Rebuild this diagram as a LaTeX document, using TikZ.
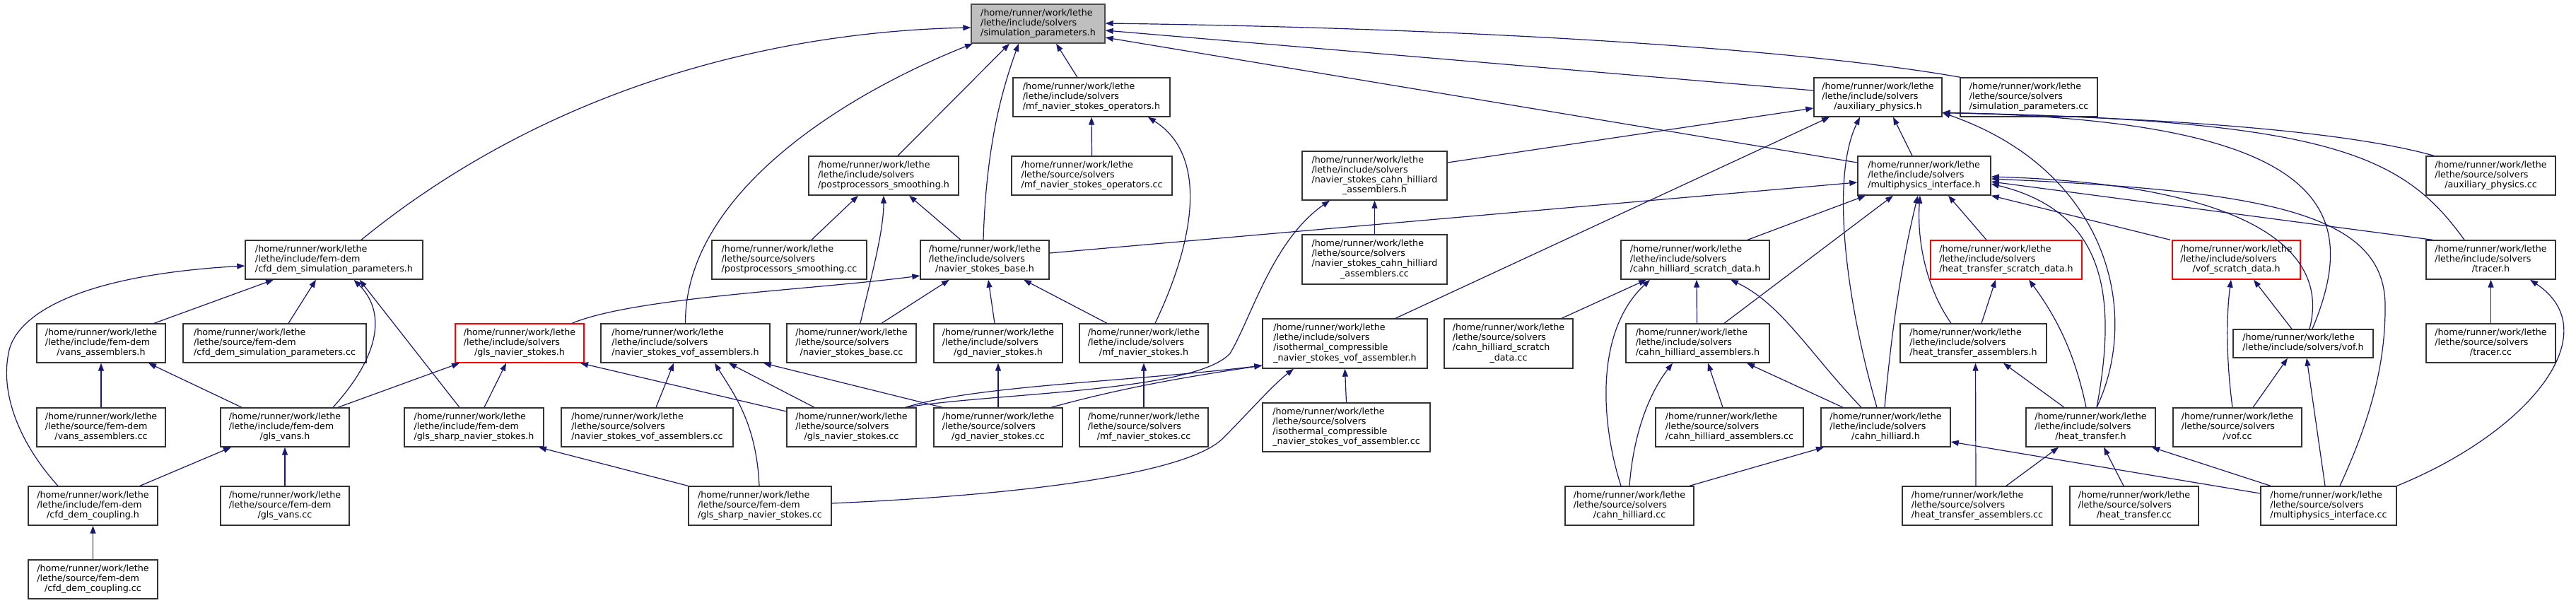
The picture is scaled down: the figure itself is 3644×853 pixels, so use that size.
\documentclass[tikz,border=0pt]{standalone}
\usepackage{fontspec}
\setmainfont{DejaVu Sans}
\usetikzlibrary{arrows.meta,calc}
\definecolor{edgec}{HTML}{191970}
\definecolor{rootfill}{HTML}{BFBFBF}
\newcommand{\lbl}[2]{\begin{tabular}{@{}l@{}}#1\\\multicolumn{1}{@{}c@{}}{#2}\end{tabular}}
\newcommand{\hpath}{/home/runner/work/lethe}
\newcommand{\incs}{/lethe/include/solvers}
\newcommand{\srcs}{/lethe/source/solvers}
\newcommand{\incf}{/lethe/include/fem-dem}
\newcommand{\srcf}{/lethe/source/fem-dem}
\begin{document}
\begin{tikzpicture}[x=1pt,y=-1pt,
  nb/.style={draw=black!80, line width=1.4pt, fill=white, rectangle, inner sep=0pt,
    minimum height=55pt, font=\fontsize{12.7}{14.2}\selectfont},
  nr/.style={nb, draw=red},
  nroot/.style={nb, fill=rootfill, draw=black!70},
  edge/.style={draw=edgec, line width=1.2pt, -{Triangle[length=11pt,width=8pt]}}]
\fill[white] (0,0) rectangle (3644,853);
\useasboundingbox (0,0) rectangle (3644,853);

% Row 0
\node[nroot, minimum width=189pt] (root) at (1468.5,33.5) {\lbl{\hpath\\\incs}{/simulation\_parameters.h}};
% Row 1
\node[nb, minimum width=222pt] (mfopsh) at (1544,137.5) {\lbl{\hpath\\\incs}{/mf\_navier\_stokes\_operators.h}};
\node[nb, minimum width=181pt] (auxh) at (2656.5,137.5) {\lbl{\hpath\\\incs}{/auxiliary\_physics.h}};
\node[nb, minimum width=194pt] (simcc) at (2870,137.5) {\lbl{\hpath\\\srcs}{/simulation\_parameters.cc}};
% Row 2
\node[nb, minimum width=212pt] (ppsh) at (1250,248.5) {\lbl{\hpath\\\incs}{/postprocessors\_smoothing.h}};
\node[nb, minimum width=227pt] (mfopscc) at (1544.5,248.5) {\lbl{\hpath\\\srcs}{/mf\_navier\_stokes\_operators.cc}};
\node[nb, minimum width=205pt, minimum height=69pt] (nschh) at (1944.5,248.5) {\lbl{\hpath\\\incs\\/navier\_stokes\_cahn\_hilliard}{\_assemblers.h}};
\node[nb, minimum width=188pt] (mph) at (2722,248.5) {\lbl{\hpath\\\incs}{/multiphysics\_interface.h}};
\node[nb, minimum width=183pt] (auxcc) at (3523.5,248.5) {\lbl{\hpath\\\srcs}{/auxiliary\_physics.cc}};
% Row 3
\node[nb, minimum width=251pt] (cfdsimh) at (472.5,367.5) {\lbl{\hpath\\\incf}{/cfd\_dem\_simulation\_parameters.h}};
\node[nb, minimum width=219pt] (ppscc) at (1116.5,367.5) {\lbl{\hpath\\\srcs}{/postprocessors\_smoothing.cc}};
\node[nb, minimum width=182pt] (nsbaseh) at (1393,367.5) {\lbl{\hpath\\\incs}{/navier\_stokes\_base.h}};
\node[nb, minimum width=205pt, minimum height=70pt] (nschcc) at (1944.5,367) {\lbl{\hpath\\\srcs\\/navier\_stokes\_cahn\_hilliard}{\_assemblers.cc}};
\node[nb, minimum width=210pt] (chsdh) at (2398,367.5) {\lbl{\hpath\\\incs}{/cahn\_hilliard\_scratch\_data.h}};
\node[nr, minimum width=214pt] (htsdh) at (2838,367.5) {\lbl{\hpath\\\incs}{/heat\_transfer\_scratch\_data.h}};
\node[nr, minimum width=181pt] (vofsdh) at (3163.5,367.5) {\lbl{\hpath\\\incs}{/vof\_scratch\_data.h}};
\node[nb, minimum width=183pt] (tracerh) at (3523.5,367.5) {\lbl{\hpath\\\incs}{/tracer.h}};
% Row 4
\node[nb, minimum width=182pt] (vansh) at (143,485.5) {\lbl{\hpath\\\incf}{/vans\_assemblers.h}};
\node[nb, minimum width=259pt] (cfdsimcc) at (388.5,485.5) {\lbl{\hpath\\\srcf}{/cfd\_dem\_simulation\_parameters.cc}};
\node[nr, minimum width=182pt] (glsnsh) at (735,485.5) {\lbl{\hpath\\\incs}{/gls\_navier\_stokes.h}};
\node[nb, minimum width=239pt] (nsvofh) at (969.5,485.5) {\lbl{\hpath\\\incs}{/navier\_stokes\_vof\_assemblers.h}};
\node[nb, minimum width=183pt] (nsbasecc) at (1204.5,485.5) {\lbl{\hpath\\\srcs}{/navier\_stokes\_base.cc}};
\node[nb, minimum width=182pt] (gdnsh) at (1412,485.5) {\lbl{\hpath\\\incs}{/gd\_navier\_stokes.h}};
\node[nb, minimum width=182pt] (mfnsh) at (1618,485.5) {\lbl{\hpath\\\incs}{/mf\_navier\_stokes.h}};
\node[nb, minimum width=233pt, minimum height=70pt] (isoh) at (1902.5,486) {\lbl{\hpath\\\incs\\/isothermal\_compressible}{\_navier\_stokes\_vof\_assembler.h}};
\node[nb, minimum width=182pt, minimum height=70pt] (chsdcc) at (2134,486) {\lbl{\hpath\\\srcs\\/cahn\_hilliard\_scratch}{\_data.cc}};
\node[nb, minimum width=203pt] (chah) at (2401.5,485.5) {\lbl{\hpath\\\incs}{/cahn\_hilliard\_assemblers.h}};
\node[nb, minimum width=207pt] (htah) at (2791.5,485.5) {\lbl{\hpath\\\incs}{/heat\_transfer\_assemblers.h}};
\node[nb, minimum width=198pt, minimum height=40pt] (vofh) at (3258,486) {\lbl{\hpath}{/lethe/include/solvers/vof.h}};
\node[nb, minimum width=183pt] (tracercc) at (3523.5,485.5) {\lbl{\hpath\\\srcs}{/tracer.cc}};
% Row 5
\node[nb, minimum width=182pt] (vanscc) at (143,604.5) {\lbl{\hpath\\\srcf}{/vans\_assemblers.cc}};
\node[nb, minimum width=182pt] (glsvansh) at (403,604.5) {\lbl{\hpath\\\incf}{/gls\_vans.h}};
\node[nb, minimum width=197pt] (glssharph) at (670.5,604.5) {\lbl{\hpath\\\incf}{/gls\_sharp\_navier\_stokes.h}};
\node[nb, minimum width=243pt] (nsvofcc) at (915.5,604.5) {\lbl{\hpath\\\srcs}{/navier\_stokes\_vof\_assemblers.cc}};
\node[nb, minimum width=183pt] (glsnscc) at (1204.5,604.5) {\lbl{\hpath\\\srcs}{/gls\_navier\_stokes.cc}};
\node[nb, minimum width=182pt] (gdnscc) at (1412,604.5) {\lbl{\hpath\\\srcs}{/gd\_navier\_stokes.cc}};
\node[nb, minimum width=182pt] (mfnscc) at (1618,604.5) {\lbl{\hpath\\\srcs}{/mf\_navier\_stokes.cc}};
\node[nb, minimum width=237pt, minimum height=69pt] (isocc) at (1904.5,604.5) {\lbl{\hpath\\\srcs\\/isothermal\_compressible}{\_navier\_stokes\_vof\_assembler.cc}};
\node[nb, minimum width=209pt] (chacc) at (2446.5,604.5) {\lbl{\hpath\\\srcs}{/cahn\_hilliard\_assemblers.cc}};
\node[nb, minimum width=183pt] (chh) at (2667.5,604.5) {\lbl{\hpath\\\incs}{/cahn\_hilliard.h}};
\node[nb, minimum width=183pt] (hth) at (2957.5,604.5) {\lbl{\hpath\\\incs}{/heat\_transfer.h}};
\node[nb, minimum width=182pt] (vofcc) at (3165,604.5) {\lbl{\hpath\\\srcs}{/vof.cc}};
% Row 6
\node[nb, minimum width=183pt] (cfdcouph) at (131.5,715.5) {\lbl{\hpath\\\incf}{/cfd\_dem\_coupling.h}};
\node[nb, minimum width=182pt] (glsvanscc) at (403,715.5) {\lbl{\hpath\\\srcf}{/gls\_vans.cc}};
\node[nb, minimum width=202pt] (glssharpcc) at (1075,715.5) {\lbl{\hpath\\\srcf}{/gls\_sharp\_navier\_stokes.cc}};
\node[nb, minimum width=182pt] (chcc) at (2305,715.5) {\lbl{\hpath\\\srcs}{/cahn\_hilliard.cc}};
\node[nb, minimum width=212pt] (htacc) at (2797,715.5) {\lbl{\hpath\\\srcs}{/heat\_transfer\_assemblers.cc}};
\node[nb, minimum width=182pt] (htcc) at (3019,715.5) {\lbl{\hpath\\\srcs}{/heat\_transfer.cc}};
\node[nb, minimum width=192pt] (mpcc) at (3294,715.5) {\lbl{\hpath\\\srcs}{/multiphysics\_interface.cc}};
% Row 7
\node[nb, minimum width=183pt] (cfdcoupcc) at (131.5,819.5) {\lbl{\hpath\\\srcf}{/cfd\_dem\_coupling.cc}};

% ---- edges into root
\draw[edge] ($(cfdsimh.north)+(38.5,0)$) .. controls (780,120) and (1100,45) .. ($(root.west)+(0,5.5)$);
\draw[edge] (nsvofh.north) .. controls (969,280) and (1180,140) .. ($(root.south)+(-92.5,0)$);
\draw[edge] ($(ppsh.north)+(20,0)$) -- ($(root.south)+(-40.5,0)$);
\draw[edge] ($(nsbaseh.north)+(-2,0)$) .. controls (1395,200) and (1420,120) .. ($(root.south)+(-27.5,0)$);
\draw[edge] ($(mfopsh.north)+(-20,0)$) -- ($(root.south)+(25.5,0)$);
\draw[edge] ($(simcc.north)+(-97,0)$) .. controls (2550,70) and (2100,40) .. ($(root.east)+(0,-0.5)$);
\draw[edge] ($(auxh.west)+(0,-9.5)$) -- ($(root.east)+(0,9.5)$);
\draw[edge] ($(mph.west)+(0,-18.5)$) -- ($(root.east)+(0,19.5)$);
% mf operators
\draw[edge] (mfopscc.north) -- (mfopsh.south);
\draw[edge] ($(mfnsh.north)+(16,0)$) .. controls (1690,340) and (1710,220) .. ($(mfopsh.south)+(80,0)$);
% postprocessors smoothing
\draw[edge] ($(ppscc.north)+(31.5,0)$) -- ($(ppsh.south)+(-36,0)$);
\draw[edge] ($(nsbaseh.north)+(-34,0)$) -- ($(ppsh.south)+(36,0)$);
\draw[edge] ($(nsbasecc.north)+(12.5,0)$) .. controls (1230,400) and (1250,330) .. (ppsh.south);
% navier stokes base
\draw[edge] ($(glsnsh.north)+(74,0)$) .. controls (900,420) and (1150,410) .. ($(nsbaseh.west)+(0,22.5)$);
\draw[edge] ($(nsbasecc.north)+(42.5,0)$) -- ($(nsbaseh.south)+(-50,0)$);
\draw[edge] ($(gdnsh.north)+(-5,0)$) -- ($(nsbaseh.south)+(5,0)$);
\draw[edge] ($(mfnsh.north)+(-52,0)$) -- ($(nsbaseh.south)+(55,0)$);
\draw[edge] ($(nsbaseh.east)+(0,-9.5)$) -- ($(mph.west)+(0,9.5)$);
% ns cahn hilliard assemblers
\draw[edge] (nschcc.north) -- (nschh.south);
\draw[edge] ($(glsnscc.north)+(76.5,0)$) .. controls (1400,556) and (1690,555) .. (1740,500) .. controls (1770,450) and (1800,340) .. ($(nschh.south)+(-63.5,0)$);
% auxiliary physics
\draw[edge] ($(nschh.east)+(0,-18.5)$) -- ($(auxh.west)+(0,15.5)$);
\draw[edge] ($(mph.north)+(-17,0)$) -- ($(auxh.south)+(21.5,0)$);
\draw[edge] ($(isoh.north)+(71.5,0)$) -- ($(auxh.south)+(-68.5,0)$);
\draw[edge] ($(chh.north)+(-12.5,0)$) .. controls (2610,420) and (2590,250) .. ($(auxh.south)+(-25.5,0)$);
\draw[edge] ($(hth.north)+(8.5,0)$) .. controls (3030,440) and (2980,240) .. ($(auxh.east)+(0,22)$);
\draw[edge] ($(vofh.north)+(13,0)$) .. controls (3340,300) and (3300,170) .. ($(auxh.east)+(0,22)$);
\draw[edge] ($(tracerh.north)+(-37.5,0)$) .. controls (3400,220) and (3300,170) .. ($(auxh.east)+(0,22)$);
\draw[edge] ($(auxcc.north)+(-80.5,0)$) .. controls (3300,180) and (3000,165) .. ($(auxh.east)+(0,22)$);
% multiphysics interface
\draw[edge] ($(chsdh.north)+(74,0)$) -- ($(mph.south)+(-83,0)$);
\draw[edge] ($(chah.north)+(37.5,0)$) -- ($(mph.south)+(-44,0)$);
\draw[edge] ($(chh.north)+(-1.5,0)$) .. controls (2680,420) and (2700,330) .. ($(mph.south)+(-9,0)$);
\draw[edge] ($(htsdh.north)+(-28,0)$) -- ($(mph.south)+(34,0)$);
\draw[edge] ($(htah.north)+(-31.5,0)$) .. controls (2720,400) and (2712,330) .. ($(mph.south)+(-6,0)$);
\draw[edge] ($(hth.north)+(8.5,0)$) .. controls (2995,420) and (2980,300) .. ($(mph.east)+(0,11.5)$);
\draw[edge] ($(vofsdh.north)+(-93.5,0)$) -- (mph.south east);
\draw[edge] ($(vofh.north)+(9,0)$) .. controls (3300,340) and (3150,260) .. ($(mph.east)+(0,1.5)$);
\draw[edge] ($(tracerh.north)+(-82.5,0)$) -- ($(mph.east)+(0,8.5)$);
\draw[edge] ($(mpcc.north)+(16,0)$) .. controls (3350,600) and (3375,520) .. (3374,430) .. controls (3372,300) and (3200,270) .. ($(mph.east)+(0,4.5)$);
% cahn hilliard scratch data
\draw[edge] ($(chsdcc.north)+(75,0)$) -- ($(chsdh.south)+(-69,0)$);
\draw[edge] ($(chah.north)+(-1,0)$) -- ($(chsdh.south)+(2,0)$);
\draw[edge] ($(chcc.north)+(-12,0)$) .. controls (2265,600) and (2255,470) .. ($(chsdh.south)+(-64,0)$);
\draw[edge] ($(chh.north)+(-34.5,0)$) .. controls (2560,500) and (2520,430) .. ($(chsdh.south)+(50,0)$);
% heat transfer scratch data / assemblers / heat transfer
\draw[edge] ($(htah.north)+(11.5,0)$) -- ($(htsdh.south)+(-15,0)$);
\draw[edge] ($(hth.north)+(-6.5,0)$) .. controls (2935,500) and (2910,450) .. ($(htsdh.south)+(32,0)$);
\draw[edge] ($(htacc.north)+(-2,0)$) -- ($(htah.south)+(3,0)$);
\draw[edge] ($(hth.north)+(-37.5,0)$) -- ($(htah.south)+(42.5,0)$);
\draw[edge] ($(htacc.north)+(41,0)$) -- ($(hth.south)+(-45.5,0)$);
\draw[edge] ($(htcc.north)+(-15,0)$) -- ($(hth.south)+(18.5,0)$);
\draw[edge] ($(mpcc.north)+(-82,0)$) -- ($(hth.south)+(86.5,0)$);
% cahn hilliard
\draw[edge] ($(chcc.north)+(85,0)$) -- ($(chh.south)+(-87.5,0)$);
\draw[edge] ($(mpcc.west)+(0,-17.5)$) -- ($(chh.east)+(0,20.5)$);
\draw[edge] ($(chacc.north)+(-9.5,0)$) -- ($(chah.south)+(14.5,0)$);
\draw[edge] ($(chh.north)+(-60.5,0)$) -- ($(chah.south)+(69.5,0)$);
\draw[edge] (chcc.north) .. controls (2310,620) and (2330,560) .. ($(chah.south)+(-35.5,0)$);
% vof
\draw[edge] ($(vofh.north)+(-16,0)$) -- ($(vofsdh.south)+(24.5,0)$);
\draw[edge] ($(vofcc.north)+(-7,0)$) .. controls (3148,500) and (3150,440) .. ($(vofsdh.south)+(-7.5,0)$);
\draw[edge] ($(vofcc.north)+(22,0)$) -- ($(vofh.south)+(-22,0)$);
\draw[edge] ($(mpcc.north)+(-5,0)$) -- ($(vofh.south)+(5,0)$);
% tracer
\draw[edge] (tracercc.north) -- (tracerh.south);
\draw[edge] (mpcc.north east) .. controls (3580,610) and (3690,470) .. ($(tracerh.south)+(55.5,0)$);
% cfd dem simulation parameters
\draw[edge] ($(vansh.north)+(75,0)$) -- ($(cfdsimh.south)+(-85.5,0)$);
\draw[edge] ($(cfdsimcc.north)+(19.5,0)$) -- ($(cfdsimh.south)+(-25.5,0)$);
\draw[edge] ($(glsvansh.north)+(68,0)$) .. controls (540,500) and (545,440) .. ($(cfdsimh.south)+(28,0)$);
\draw[edge] ($(glssharph.north)+(-20.5,0)$) -- ($(cfdsimh.south)+(36,0)$);
\draw[edge] ($(cfdcouph.north)+(-49.5,0)$) .. controls (30,630) and (0,560) .. (12,500) .. controls (20,450) and (100,390) .. ($(cfdsimh.west)+(0,8.5)$);
% fem-dem
\draw[edge] (vanscc.north) -- (vansh.south);
\draw[edge] ($(glsvansh.north)+(-61,0)$) -- ($(vansh.south)+(67,0)$);
\draw[edge] ($(cfdcouph.north)+(66.5,0)$) -- ($(glsvansh.south)+(-76,0)$);
\draw[edge] (glsvanscc.north) -- (glsvansh.south);
\draw[edge] (cfdcoupcc.north) -- (cfdcouph.south);
% gls navier stokes
\draw[edge] ($(glsvansh.north)+(75,0)$) -- ($(glsnsh.south)+(-85,0)$);
\draw[edge] ($(glssharph.north)+(14.5,0)$) -- ($(glsnsh.south)+(-19,0)$);
\draw[edge] ($(glsnscc.west)+(0,-22.5)$) -- ($(glsnsh.south)+(86,0)$);
\draw[edge] (glssharpcc.north west) -- ($(glssharph.south)+(91.5,0)$);
% navier stokes vof assemblers
\draw[edge] ($(nsvofcc.north)+(12.5,0)$) -- ($(nsvofh.south)+(-16.5,0)$);
\draw[edge] ($(glssharpcc.north)+(-1,0)$) .. controls (1070,600) and (1040,560) .. ($(nsvofh.south)+(41.5,0)$);
\draw[edge] ($(glsnscc.north)+(-52.5,0)$) -- ($(nsvofh.south)+(61.5,0)$);
\draw[edge] ($(gdnscc.north)+(-79,0)$) -- ($(nsvofh.south)+(110.5,0)$);
% isothermal
\draw[edge] ($(glsnscc.north)+(76.5,0)$) .. controls (1380,545) and (1600,540) .. ($(isoh.west)+(0,31)$);
\draw[edge] ($(gdnscc.north)+(75,0)$) .. controls (1600,545) and (1700,530) .. ($(isoh.west)+(0,31)$);
\draw[edge] ($(glssharpcc.east)+(0,-3.5)$) .. controls (1450,700) and (1680,670) .. (1730,620) .. controls (1765,585) and (1800,545) .. ($(isoh.south)+(-72.5,0)$);
\draw[edge] (isocc.north) -- (isoh.south);
% gd / mf
\draw[edge] (gdnscc.north) -- (gdnsh.south);
\draw[edge] (mfnscc.north) -- (mfnsh.south);
\end{tikzpicture}
\end{document}
